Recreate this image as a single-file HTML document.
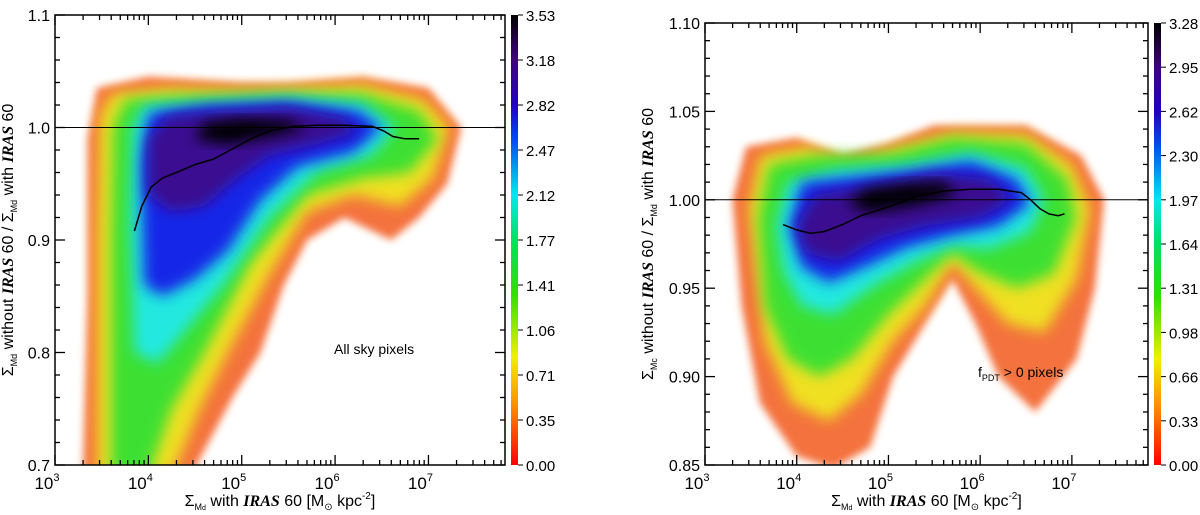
<!DOCTYPE html>
<html><head><meta charset="utf-8"><style>
body{margin:0;background:#fff;width:1200px;height:510px;overflow:hidden}
svg{font-family:"Liberation Sans",sans-serif}
</style></head><body>
<svg id="s" width="1200" height="510" xmlns="http://www.w3.org/2000/svg">
<defs>
<filter id="bl" x="-20%" y="-20%" width="140%" height="140%"><feGaussianBlur stdDeviation="7"/></filter>
<filter id="bl2" x="-20%" y="-20%" width="140%" height="140%"><feGaussianBlur stdDeviation="4"/></filter>
<linearGradient id="cb" x1="0" y1="1" x2="0" y2="0">
<stop offset="0" stop-color="#ff0000"/><stop offset="0.12" stop-color="#ff8000"/><stop offset="0.24" stop-color="#f0f000"/>
<stop offset="0.38" stop-color="#30e000"/><stop offset="0.5" stop-color="#00e060"/><stop offset="0.6" stop-color="#00e8f0"/>
<stop offset="0.72" stop-color="#0050f0"/><stop offset="0.8" stop-color="#2000c0"/><stop offset="0.9" stop-color="#400080"/><stop offset="1" stop-color="#000000"/>
</linearGradient>
<clipPath id="c1"><rect x="55" y="15" width="450" height="450"/></clipPath>
<clipPath id="c2"><rect x="705" y="23" width="443" height="442"/></clipPath>
</defs>
</svg>
<script>
// ---------- data ----------
const levelColors = ["#f25a1e","#f0e020","#3ee030","#20e8e0","#1828e8","#3a0890","#000000"];
const leftLevels = [
 [[3.3,0.69],[3.35,0.85],[3.35,0.99],[3.45,1.035],[4.0,1.045],[5.0,1.04],[5.5,1.04],[6.3,1.045],[7.0,1.035],[7.35,1.0],[7.2,0.95],[6.9,0.92],[6.6,0.9],[6.1,0.92],[5.7,0.9],[5.45,0.86],[5.2,0.8],[4.9,0.76],[4.45,0.69]],
 [[3.45,0.69],[3.45,0.9],[3.48,1.01],[3.6,1.03],[4.2,1.035],[5.0,1.033],[6.3,1.038],[6.95,1.025],[7.22,1.0],[7.05,0.955],[6.7,0.93],[6.2,0.94],[5.7,0.925],[5.3,0.87],[4.85,0.8],[4.55,0.75],[4.25,0.69]],
 [[3.6,0.69],[3.6,0.9],[3.62,1.0],[3.75,1.025],[4.3,1.028],[5.3,1.03],[6.3,1.03],[6.9,1.015],[7.1,0.99],[6.8,0.96],[6.3,0.955],[5.7,0.94],[5.1,0.88],[4.6,0.8],[4.25,0.75],[4.0,0.69]],
 [[3.85,0.8],[3.8,0.92],[3.83,1.0],[3.95,1.02],[4.5,1.022],[5.5,1.027],[6.3,1.022],[6.65,1.0],[6.4,0.975],[5.8,0.96],[5.3,0.92],[4.8,0.86],[4.4,0.82],[4.1,0.79]],
 [[3.95,0.86],[3.92,0.97],[4.0,1.013],[4.6,1.02],[5.5,1.023],[6.25,1.015],[6.5,1.0],[6.2,0.978],[5.6,0.965],[5.2,0.935],[4.85,0.89],[4.5,0.865],[4.15,0.85]],
 [[4.0,0.94],[4.0,0.99],[4.2,1.01],[4.8,1.015],[5.5,1.018],[6.1,1.008],[6.25,0.996],[5.8,0.985],[5.3,0.975],[4.95,0.955],[4.6,0.93],[4.25,0.925]],
 [[4.5,0.99],[4.6,1.004],[5.0,1.008],[5.5,1.006],[5.7,0.999],[5.3,0.992],[4.85,0.985]]
];
const rightLevels = [
 [[3.3,1.0],[3.45,1.03],[4.0,1.035],[4.5,1.025],[5.0,1.032],[5.5,1.042],[6.5,1.042],[7.1,1.025],[7.35,1.0],[7.25,0.95],[7.05,0.91],[6.6,0.88],[6.2,0.9],[5.95,0.93],[5.7,0.955],[5.4,0.93],[5.05,0.9],[4.8,0.86],[4.4,0.848],[4.0,0.855],[3.6,0.885],[3.4,0.94]],
 [[3.48,0.995],[3.6,1.025],[4.1,1.03],[4.6,1.022],[5.1,1.03],[5.7,1.038],[6.5,1.037],[7.0,1.02],[7.2,0.995],[7.05,0.955],[6.7,0.925],[6.3,0.93],[5.95,0.95],[5.7,0.965],[5.4,0.94],[5.05,0.92],[4.7,0.89],[4.35,0.875],[3.95,0.885],[3.65,0.92]],
 [[3.58,0.99],[3.7,1.02],[4.2,1.025],[5.0,1.026],[5.7,1.035],[6.5,1.032],[6.95,1.012],[7.05,0.99],[6.8,0.958],[6.4,0.95],[5.95,0.96],[5.7,0.97],[5.4,0.955],[5.0,0.935],[4.6,0.91],[4.25,0.9],[3.9,0.91],[3.65,0.94]],
 [[3.78,0.985],[3.9,1.01],[4.4,1.017],[5.2,1.02],[5.9,1.027],[6.5,1.018],[6.7,1.0],[6.55,0.982],[6.1,0.972],[5.7,0.974],[5.3,0.965],[4.8,0.95],[4.4,0.935],[4.05,0.94],[3.85,0.96]],
 [[3.92,0.985],[4.05,1.01],[4.6,1.013],[5.3,1.017],[5.9,1.022],[6.4,1.012],[6.55,0.998],[6.2,0.985],[5.7,0.98],[5.2,0.973],[4.75,0.962],[4.35,0.953],[4.05,0.962]],
 [[4.0,0.985],[4.2,1.003],[4.8,1.008],[5.5,1.015],[6.1,1.012],[6.35,1.0],[6.0,0.99],[5.4,0.985],[4.9,0.978],[4.45,0.965],[4.1,0.97]],
 [[4.55,0.998],[4.75,1.006],[5.2,1.009],[5.6,1.01],[5.75,1.003],[5.3,0.997],[4.8,0.993]]
];
const leftMeanX = [3.85,3.93,4.03,4.15,4.3,4.5,4.7,4.9,5.1,5.3,5.55,5.8,6.1,6.4,6.52,6.62,6.75,6.9];
const leftMeanY = [0.908,0.93,0.947,0.955,0.96,0.967,0.972,0.981,0.99,0.997,1.001,1.002,1.002,1.001,0.997,0.992,0.99,0.99];
const rightMeanX = [3.85,4.0,4.15,4.3,4.5,4.7,5.0,5.3,5.6,5.9,6.2,6.45,6.55,6.65,6.75,6.85,6.92];
const rightMeanY = [0.986,0.983,0.981,0.982,0.986,0.991,0.996,1.002,1.005,1.006,1.006,1.004,1.0,0.995,0.992,0.991,0.992];
const leftCbLabels = ["0.00","0.35","0.71","1.06","1.41","1.77","2.12","2.47","2.82","3.18","3.53"];
const rightCbLabels = ["0.00","0.33","0.66","0.98","1.31","1.64","1.97","2.30","2.62","2.95","3.28"];
const leftYTicks = [0.7,0.8,0.9,1.0,1.1];
const leftYLabels = ["0.7","0.8","0.9","1.0","1.1"];
const rightYTicks = [0.85,0.90,0.95,1.00,1.05,1.10];
const rightYLabels = ["0.85","0.90","0.95","1.00","1.05","1.10"];
const xDecades = [3,4,5,6,7];

// ---------- drawing ----------
const NS="http://www.w3.org/2000/svg", S=document.getElementById('s');
function el(t,a,p){const e=document.createElementNS(NS,t);for(const k in a)e.setAttribute(k,a[k]);(p||S).appendChild(e);return e;}

function panel(cfg){
  const {x0,x1,y0,y1,xmin,xmax,ymin,ymax,levels,mx,my,yt,yl,cbl,clip,name,ymin2,label,labelX,labelY,sub}=cfg;
  const X=v=>x0+(v-xmin)/(xmax-xmin)*(x1-x0);
  const Y=v=>y1-(v-ymin)/(ymax-ymin)*(y1-y0);
  const g=el('g',{'clip-path':'url(#'+clip+')'});
  
  
  levels.forEach((poly,i)=>{
    const d='M'+poly.map(p=>X(p[0]).toFixed(1)+','+Y(p[1]).toFixed(1)).join('L')+'Z';
    const p=el('path',{d:d,fill:levelColors[i],filter:i===0?'url(#bl2)':'url(#bl)',opacity:i===0?0.85:1},g);
    
    
  });
  const rl=el('line',{x1:x0,x2:x1,y1:Y(1),y2:Y(1),stroke:'#000','stroke-width':1});
  
  
  const ml=el('polyline',{points:mx.map((v,i)=>X(v).toFixed(1)+','+Y(my[i]).toFixed(1)).join(' '),fill:'none',stroke:'#000','stroke-width':1.5});
  
  
  const fr=el('rect',{x:x0,y:y0,width:x1-x0,height:y1-y0,fill:'none',stroke:'#000','stroke-width':1.5});
  
  
  for(let d=3;d<8;d++){for(let m=1;m<10;m++){const v=d+Math.log10(m);if(v>xmax)continue;const L=m===1?10:5;const xx=X(v);
    el('line',{x1:xx,x2:xx,y1:y1,y2:y1-L,stroke:'#000','stroke-width':1.3});el('line',{x1:xx,x2:xx,y1:y0,y2:y0+L,stroke:'#000','stroke-width':1.3});}}
  xDecades.forEach(d=>{const t=el('text',{x:X(d)-8,y:y1+24,'font-size':17,'text-anchor':'middle'});t.textContent='10';
    
    const s=el('tspan',{dy:-8,'font-size':11},t);s.textContent=String(d);});
  for(let v=ymin;v<=ymax+1e-9;v+=ymin2){const yy=Y(v);const major=yt.some(t=>Math.abs(t-v)<1e-6);const L=major?10:5;
    el('line',{x1:x0,x2:x0+L,y1:yy,y2:yy,stroke:'#000','stroke-width':1.3});el('line',{x1:x1,x2:x1-L,y1:yy,y2:yy,stroke:'#000','stroke-width':1.3});}
  yt.forEach((v,i)=>{const t=el('text',{x:x0-5,y:Y(v)+6,'font-size':16,'text-anchor':'end'});t.textContent=yl[i];
    });
  const cx=x1+6;
  const cr=el('rect',{x:cx,y:y0,width:7,height:y1-y0,fill:'url(#cb)'});
  
  
  cbl.forEach((l,i)=>{const yy=y1-i/(cbl.length-1)*(y1-y0);
    el('line',{x1:cx+7,x2:cx+12,y1:yy,y2:yy,stroke:'#000'});
    const t=el('text',{x:cx+15,y:yy+6,'font-size':15});t.textContent=l;
    });
  const xt=el('text',{x:(x0+x1)/2,y:y1+41,'font-size':16,'text-anchor':'middle'});
  
  
  xt.innerHTML='Σ<tspan font-size="9" dy="4">M<tspan font-size="7">d</tspan></tspan><tspan dy="-4"> with </tspan><tspan font-family="Liberation Serif" font-weight="bold" font-style="italic">IRAS</tspan> 60 [M<tspan font-size="10" dy="4">⊙</tspan><tspan dy="-4"> kpc</tspan><tspan font-size="10" dy="-7">-2</tspan><tspan dy="7">]</tspan>';
  const ytl=el('text',{x:0,y:0,'font-size':16,'text-anchor':'middle',transform:'translate('+cfg.ytx+','+((y0+y1)/2)+') rotate(-90)'});
  
  
  ytl.innerHTML='Σ<tspan font-size="9" dy="4">M'+sub+'</tspan><tspan dy="-4"> without </tspan><tspan font-family="Liberation Serif" font-weight="bold" font-style="italic">IRAS</tspan> 60 / Σ<tspan font-size="9" dy="4">Md</tspan><tspan dy="-4"> with </tspan><tspan font-family="Liberation Serif" font-weight="bold" font-style="italic">IRAS</tspan> 60';
  const lb=el('text',{x:labelX,y:labelY,'font-size':14});
  
  
  lb.innerHTML=label;
}
panel({name:'left-panel',x0:55,x1:505,y0:15,y1:465,xmin:3,xmax:7.82,ymin:0.7,ymax:1.1,ymin2:0.02,levels:leftLevels,mx:leftMeanX,my:leftMeanY,
  yt:leftYTicks,yl:leftYLabels,cbl:leftCbLabels,clip:'c1',ytx:13,sub:'d',label:'All sky pixels',labelX:334,labelY:354});
panel({name:'right-panel',x0:705,x1:1148,y0:23,y1:465,xmin:3,xmax:7.83,ymin:0.85,ymax:1.1,ymin2:0.01,levels:rightLevels,mx:rightMeanX,my:rightMeanY,
  yt:rightYTicks,yl:rightYLabels,cbl:rightCbLabels,clip:'c2',ytx:653,sub:'c',label:'f<tspan font-size="9" dy="4">PDT</tspan><tspan dy="-4"> &gt; 0 pixels</tspan>',labelX:978,labelY:377});
</script>
</body></html>
